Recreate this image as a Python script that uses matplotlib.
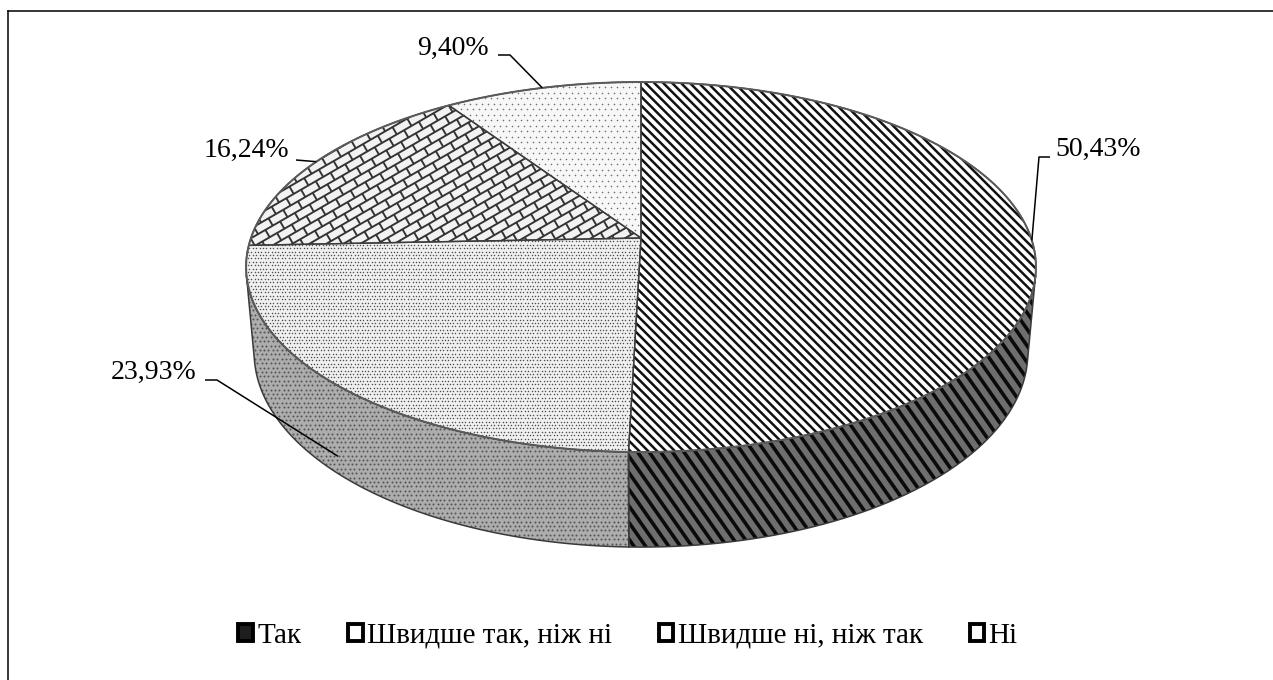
import numpy as np
import matplotlib
matplotlib.use("Agg")
import matplotlib.pyplot as plt
from matplotlib.patches import Polygon, Patch
from matplotlib.collections import LineCollection
from matplotlib.lines import Line2D

# Survey answers and their shares (%)
categories = ["Так", "Швидше так, ніж ні", "Швидше ні, ніж так", "Ні"]
shares = [50.43, 23.93, 16.24, 9.40]
value_labels = ["50,43%", "23,93%", "16,24%", "9,40%"]

W, H = 1273, 680
plt.rcParams["font.family"] = ["Liberation Serif", "DejaVu Serif"]

fig = plt.figure(figsize=(W / 100, H / 100), dpi=100)
ax = fig.add_axes([0, 0, 1, 1])
ax.set_xlim(0, W)
ax.set_ylim(H, 0)
ax.axis("off")

# ---- perspective camera for a flat cylinder (unit radius) ----
elev = np.deg2rad(27.56)
dist = 5.653
focal = 2205.0
cx, cy = 641.0, 238.0
thick = 0.25
S, C = np.sin(elev), np.cos(elev)


def project(phi, z=0.0, r=1.0):
    """phi: clockwise angle from 12 o'clock; z: height (0 = top face)."""
    phi = np.asarray(phi, dtype=float)
    X = r * np.sin(phi)
    Y = -r * np.cos(phi)
    up = -Y * S + z * C
    depth = dist - (Y * C + z * S)
    return cx + focal * X / depth, cy - focal * up / depth


def arc(a0, a1, z, n=None):
    if n is None:
        n = max(8, int(np.degrees(abs(a1 - a0)) * 2))
    t = np.linspace(a0, a1, n)
    x, y = project(t, z)
    return np.column_stack([x, y])


frac = np.array(shares) / np.sum(shares)
bounds = np.concatenate([[0.0], np.cumsum(frac)]) * 2 * np.pi
mids = (bounds[:-1] + bounds[1:]) / 2

# outer wall faces the camera where cos(phi) < -1/(dist*cos(elev))
vis_lo = np.arccos(-1.0 / (dist * C))
vis_hi = 2 * np.pi - vis_lo


def bbox_of(xy):
    return xy[:, 0].min(), xy[:, 1].min(), xy[:, 0].max(), xy[:, 1].max()


def add_stripes(patch, xy, angle, spacing, width_px, color):
    x0, y0, x1, y1 = bbox_of(xy)
    mx, my = (x0 + x1) / 2, (y0 + y1) / 2
    R = np.hypot(x1 - x0, y1 - y0) / 2 + spacing
    a = np.deg2rad(angle)
    d = np.array([np.cos(a), np.sin(a)])
    nrm = np.array([-np.sin(a), np.cos(a)])
    segs = []
    for k in np.arange(-R, R + spacing, spacing):
        p = np.array([mx, my]) + k * nrm
        segs.append([p - R * d, p + R * d])
    lc = LineCollection(segs, colors=color, linewidths=width_px * 0.72,
                        capstyle="butt", zorder=patch.get_zorder() + 0.1)
    ax.add_collection(lc, autolim=False)
    lc.set_clip_path(patch)


def add_dots(patch, xy, step_x, step_y, size_px, color):
    x0, y0, x1, y1 = bbox_of(xy)
    pts = []
    for i, yy in enumerate(np.arange(y0 - step_y, y1 + step_y, step_y)):
        off = (i % 2) * step_x / 2
        for xx in np.arange(x0 - step_x, x1 + step_x, step_x):
            pts.append((xx + off, yy))
    pts = np.array(pts)
    sc = ax.scatter(pts[:, 0], pts[:, 1], s=(size_px * 0.72) ** 2, c=color,
                    linewidths=0, marker="o", zorder=patch.get_zorder() + 0.1)
    sc.set_clip_path(patch)


def add_bricks(patch, xy, angle, row_h, brick_l, width_px, color):
    x0, y0, x1, y1 = bbox_of(xy)
    mx, my = (x0 + x1) / 2, (y0 + y1) / 2
    R = np.hypot(x1 - x0, y1 - y0) / 2 + brick_l
    a = np.deg2rad(angle)
    d = np.array([np.cos(a), np.sin(a)])
    nrm = np.array([-np.sin(a), np.cos(a)])
    o = np.array([mx, my])
    segs = []
    nrows = int(R / row_h) + 1
    for k in range(-nrows, nrows + 1):
        v = k * row_h
        segs.append([o + v * nrm - R * d, o + v * nrm + R * d])
        shift = (k % 2) * brick_l / 2
        for u in np.arange(-R, R, brick_l):
            uu = u + shift
            segs.append([o + v * nrm + uu * d, o + (v + row_h) * nrm + uu * d])
    lc = LineCollection(segs, colors=color, linewidths=width_px * 0.72,
                        zorder=patch.get_zorder() + 0.1)
    ax.add_collection(lc, autolim=False)
    lc.set_clip_path(patch)


# ---- fill styles per category ----
top_styles = [
    dict(face="white", kind="stripes", angle=45, spacing=6.3, width=2.5, color="#111111"),
    dict(face="#f0f0f0", kind="dots", step=(3.4, 3.4), size=1.5, color="#505050"),
    dict(face="#f2f2f2", kind="bricks", angle=-30, row=8.5, length=17, width=1.9, color="#333333"),
    dict(face="#f7f7f7", kind="dots", step=(6.0, 5.5), size=1.6, color="#707070"),
]
wall_styles = [
    dict(face="#6e6e6e", kind="stripes", angle=55, spacing=9.5, width=3.6, color="#0a0a0a"),
    dict(face="#adadad", kind="dots", step=(4.4, 4.4), size=2.0, color="#555555"),
    dict(face="#b8b8b8", kind="dots", step=(4.4, 4.4), size=2.0, color="#555555"),
    dict(face="#c8c8c8", kind="dots", step=(6.0, 6.0), size=1.6, color="#666666"),
]


def fill(xy, style, z):
    poly = Polygon(xy, closed=True, facecolor=style["face"], edgecolor="none",
                   linewidth=0, zorder=z)
    ax.add_patch(poly)
    if style["kind"] == "stripes":
        add_stripes(poly, xy, style["angle"], style["spacing"], style["width"], style["color"])
    elif style["kind"] == "dots":
        add_dots(poly, xy, style["step"][0], style["step"][1], style["size"], style["color"])
    elif style["kind"] == "bricks":
        add_bricks(poly, xy, style["angle"], style["row"], style["length"], style["width"], style["color"])
    return poly


# ---- outer walls (front, visible part only) ----
for i in range(len(shares)):
    a0 = max(bounds[i], vis_lo)
    a1 = min(bounds[i + 1], vis_hi)
    if a1 <= a0:
        continue
    top = arc(a0, a1, 0.0)
    bot = arc(a0, a1, -thick)[::-1]
    xy = np.vstack([top, bot])
    fill(xy, wall_styles[i], 2)
    ax.add_patch(Polygon(xy, closed=True, facecolor="none", edgecolor="#3a3a3a",
                         linewidth=1.1, zorder=2.5))

# ---- top faces ----
center = np.array(project(0.0, 0.0, r=0.0))
for i in range(len(shares)):
    xy = np.vstack([center, arc(bounds[i], bounds[i + 1], 0.0)])
    fill(xy, top_styles[i], 3)
    ax.add_patch(Polygon(xy, closed=True, facecolor="none", edgecolor="#3c3c3c",
                         linewidth=1.0, zorder=3.5))

# soft grey rim around the top face
rim = arc(0.0, 2 * np.pi, 0.0, n=720)
ax.plot(rim[:, 0], rim[:, 1], color="#5a5a5a", linewidth=1.4, zorder=3.6)

# ---- value labels with leader lines ----
label_layout = [
    dict(text_xy=(1055, 149), ha="left", elbow=[(1050, 157), (1039, 157)], z=0.0),
    dict(text_xy=(197, 372), ha="right", elbow=[(205, 380), (217, 380)], z=-0.8 * thick),
    dict(text_xy=(289, 150), ha="right", elbow=[(296, 160)], z=0.0),
    dict(text_xy=(489, 48), ha="right", elbow=[(498, 55), (510, 55)], z=0.0),
]
for i, lay in enumerate(label_layout):
    ax_, ay_ = project(mids[i], lay["z"])
    pts = np.array(lay["elbow"] + [(float(ax_), float(ay_))])
    ax.plot(pts[:, 0], pts[:, 1], color="black", linewidth=1.1, zorder=6,
            solid_capstyle="butt")
    ax.text(lay["text_xy"][0], lay["text_xy"][1], value_labels[i], ha=lay["ha"],
            va="center", fontsize=20, color="black", zorder=7)

# ---- legend ----
legend_faces = ["#1e1e1e", "white", "white", "white"]
handles = [Patch(facecolor=fc, edgecolor="black", linewidth=2.8, label=lab)
           for fc, lab in zip(legend_faces, categories)]
leg = fig.legend(handles=handles, loc="center", bbox_to_anchor=(628 / W, 1 - 636 / H),
                 ncol=4, frameon=False, fontsize=21, handlelength=0.5, handleheight=0.5,
                 handletextpad=0.15, columnspacing=1.6, borderaxespad=0)

# ---- chart frame ----
fig.add_artist(Line2D([8 / W, 8 / W], [0, 1 - 11 / H], color="black", linewidth=1.1))
fig.add_artist(Line2D([8 / W, 1], [1 - 11 / H, 1 - 11 / H], color="black", linewidth=1.1))

fig.savefig("out.png", dpi=100, facecolor="white")
